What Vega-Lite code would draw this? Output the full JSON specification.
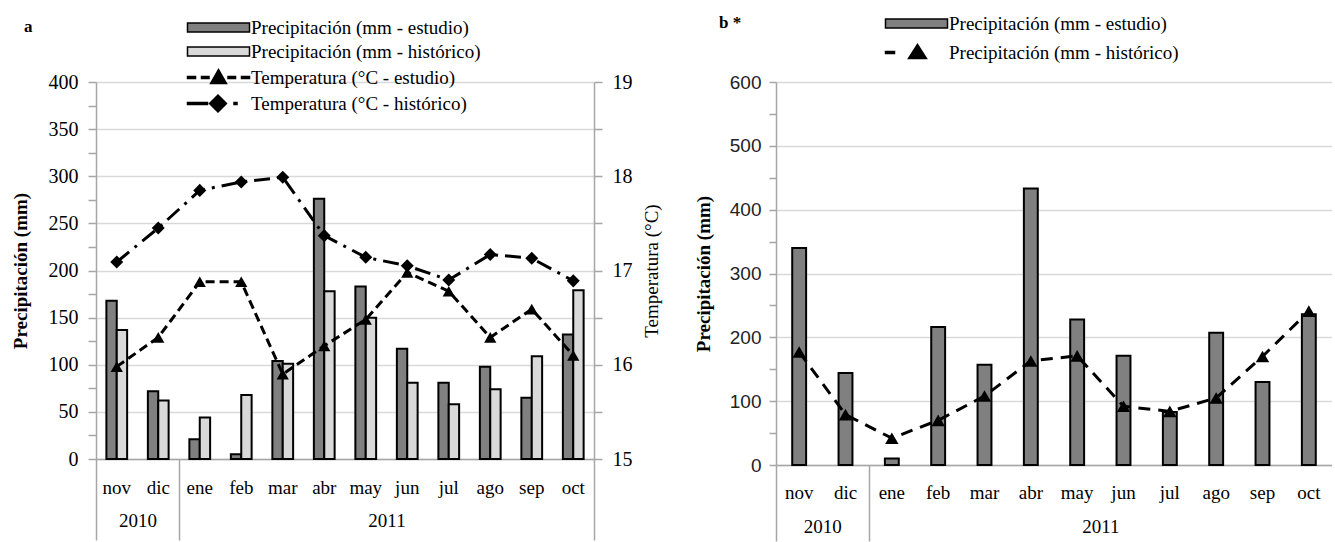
{
  "$schema": "https://vega.github.io/schema/vega-lite/v6.json",
  "background": "white",
  "padding": {"left": 11, "top": 13, "right": 0, "bottom": 0},
  "spacing": 33,
  "config": {
    "view": {"stroke": null},
    "font": "Liberation Serif",
    "legend": {"labelFont": "Liberation Serif", "labelFontSize": 19, "labelColor": "black", "labelLimit": 400, "labelOffset": 23, "symbolSize": 100, "symbolOpacity": 1, "symbolStrokeColor": "black", "symbolStrokeWidth": 1.5}
  },
  "resolve": {"scale": {"fill": "independent", "shape": "independent", "stroke": "independent", "xOffset": "independent"}},
  "datasets": {
    "a_bars": [
      {"mes": "nov", "serie": "Precipitación (mm - estudio)", "valor": 168},
      {"mes": "nov", "serie": "Precipitación (mm - histórico)", "valor": 137},
      {"mes": "dic", "serie": "Precipitación (mm - estudio)", "valor": 72},
      {"mes": "dic", "serie": "Precipitación (mm - histórico)", "valor": 62},
      {"mes": "ene", "serie": "Precipitación (mm - estudio)", "valor": 21},
      {"mes": "ene", "serie": "Precipitación (mm - histórico)", "valor": 44},
      {"mes": "feb", "serie": "Precipitación (mm - estudio)", "valor": 5},
      {"mes": "feb", "serie": "Precipitación (mm - histórico)", "valor": 68},
      {"mes": "mar", "serie": "Precipitación (mm - estudio)", "valor": 104},
      {"mes": "mar", "serie": "Precipitación (mm - histórico)", "valor": 101},
      {"mes": "abr", "serie": "Precipitación (mm - estudio)", "valor": 276},
      {"mes": "abr", "serie": "Precipitación (mm - histórico)", "valor": 178},
      {"mes": "may", "serie": "Precipitación (mm - estudio)", "valor": 183},
      {"mes": "may", "serie": "Precipitación (mm - histórico)", "valor": 150},
      {"mes": "jun", "serie": "Precipitación (mm - estudio)", "valor": 117},
      {"mes": "jun", "serie": "Precipitación (mm - histórico)", "valor": 81},
      {"mes": "jul", "serie": "Precipitación (mm - estudio)", "valor": 81},
      {"mes": "jul", "serie": "Precipitación (mm - histórico)", "valor": 58},
      {"mes": "ago", "serie": "Precipitación (mm - estudio)", "valor": 98},
      {"mes": "ago", "serie": "Precipitación (mm - histórico)", "valor": 74},
      {"mes": "sep", "serie": "Precipitación (mm - estudio)", "valor": 65},
      {"mes": "sep", "serie": "Precipitación (mm - histórico)", "valor": 109},
      {"mes": "oct", "serie": "Precipitación (mm - estudio)", "valor": 132},
      {"mes": "oct", "serie": "Precipitación (mm - histórico)", "valor": 179}
    ],
    "a_temp": [
      {"mes": "nov", "serie": "Temperatura (°C - estudio)", "valor": 15.98},
      {"mes": "dic", "serie": "Temperatura (°C - estudio)", "valor": 16.29},
      {"mes": "ene", "serie": "Temperatura (°C - estudio)", "valor": 16.88},
      {"mes": "feb", "serie": "Temperatura (°C - estudio)", "valor": 16.88},
      {"mes": "mar", "serie": "Temperatura (°C - estudio)", "valor": 15.9},
      {"mes": "abr", "serie": "Temperatura (°C - estudio)", "valor": 16.2},
      {"mes": "may", "serie": "Temperatura (°C - estudio)", "valor": 16.48},
      {"mes": "jun", "serie": "Temperatura (°C - estudio)", "valor": 16.98},
      {"mes": "jul", "serie": "Temperatura (°C - estudio)", "valor": 16.78},
      {"mes": "ago", "serie": "Temperatura (°C - estudio)", "valor": 16.29},
      {"mes": "sep", "serie": "Temperatura (°C - estudio)", "valor": 16.59},
      {"mes": "oct", "serie": "Temperatura (°C - estudio)", "valor": 16.1},
      {"mes": "nov", "serie": "Temperatura (°C - histórico)", "valor": 17.09},
      {"mes": "dic", "serie": "Temperatura (°C - histórico)", "valor": 17.45},
      {"mes": "ene", "serie": "Temperatura (°C - histórico)", "valor": 17.85},
      {"mes": "feb", "serie": "Temperatura (°C - histórico)", "valor": 17.94},
      {"mes": "mar", "serie": "Temperatura (°C - histórico)", "valor": 17.99},
      {"mes": "abr", "serie": "Temperatura (°C - histórico)", "valor": 17.37},
      {"mes": "may", "serie": "Temperatura (°C - histórico)", "valor": 17.14},
      {"mes": "jun", "serie": "Temperatura (°C - histórico)", "valor": 17.05},
      {"mes": "jul", "serie": "Temperatura (°C - histórico)", "valor": 16.9},
      {"mes": "ago", "serie": "Temperatura (°C - histórico)", "valor": 17.17},
      {"mes": "sep", "serie": "Temperatura (°C - histórico)", "valor": 17.13},
      {"mes": "oct", "serie": "Temperatura (°C - histórico)", "valor": 16.89}
    ],
    "b_bars": [
      {"mes": "nov", "serie": "Precipitación (mm - estudio)", "valor": 340},
      {"mes": "dic", "serie": "Precipitación (mm - estudio)", "valor": 144},
      {"mes": "ene", "serie": "Precipitación (mm - estudio)", "valor": 10},
      {"mes": "feb", "serie": "Precipitación (mm - estudio)", "valor": 216},
      {"mes": "mar", "serie": "Precipitación (mm - estudio)", "valor": 157},
      {"mes": "abr", "serie": "Precipitación (mm - estudio)", "valor": 433},
      {"mes": "may", "serie": "Precipitación (mm - estudio)", "valor": 228},
      {"mes": "jun", "serie": "Precipitación (mm - estudio)", "valor": 171},
      {"mes": "jul", "serie": "Precipitación (mm - estudio)", "valor": 83},
      {"mes": "ago", "serie": "Precipitación (mm - estudio)", "valor": 207},
      {"mes": "sep", "serie": "Precipitación (mm - estudio)", "valor": 130},
      {"mes": "oct", "serie": "Precipitación (mm - estudio)", "valor": 236}
    ],
    "b_hist": [
      {"mes": "nov", "serie": "Precipitación (mm - histórico)", "valor": 177},
      {"mes": "dic", "serie": "Precipitación (mm - histórico)", "valor": 79},
      {"mes": "ene", "serie": "Precipitación (mm - histórico)", "valor": 42},
      {"mes": "feb", "serie": "Precipitación (mm - histórico)", "valor": 70},
      {"mes": "mar", "serie": "Precipitación (mm - histórico)", "valor": 108},
      {"mes": "abr", "serie": "Precipitación (mm - histórico)", "valor": 163},
      {"mes": "may", "serie": "Precipitación (mm - histórico)", "valor": 171},
      {"mes": "jun", "serie": "Precipitación (mm - histórico)", "valor": 92},
      {"mes": "jul", "serie": "Precipitación (mm - histórico)", "valor": 84},
      {"mes": "ago", "serie": "Precipitación (mm - histórico)", "valor": 105},
      {"mes": "sep", "serie": "Precipitación (mm - histórico)", "valor": 170},
      {"mes": "oct", "serie": "Precipitación (mm - histórico)", "valor": 241}
    ],
    "years": [
      {"pos": 1, "anio": "2010"},
      {"pos": 7, "anio": "2011"}
    ]
  },
  "hconcat": [
    {
      "width": 498,
      "height": 377,
      "title": {"text": "a", "anchor": "start", "frame": "group", "dx": -72, "dy": 21.5, "font": "Liberation Serif", "fontSize": 17, "fontWeight": "bold", "color": "black"},
      "resolve": {"scale": {"x": "independent", "y": "independent"}},
      "layer": [
        {
          "data": {"name": "a_bars"},
          "mark": {"type": "bar", "stroke": "black", "strokeWidth": 2},
          "encoding": {
            "x": {"field": "mes", "type": "nominal", "sort": ["nov","dic","ene","feb","mar","abr","may","jun","jul","ago","sep","oct"],
              "scale": {"paddingInner": 0.5, "paddingOuter": 0.25},
              "axis": {"orient": "bottom", "title": null, "ticks": false, "domainColor": "#a6a6a6", "domainWidth": 1.5, "labelAngle": 0, "labelFont": "Liberation Serif", "labelFontSize": 19, "labelColor": "black", "labelPadding": 19}},
            "xOffset": {"field": "serie", "type": "nominal", "sort": ["Precipitación (mm - estudio)", "Precipitación (mm - histórico)"], "scale": {"paddingInner": 0, "paddingOuter": 0}},
            "y": {"field": "valor", "type": "quantitative", "scale": {"domain": [0, 400], "nice": false},
              "axis": {"title": "Precipitación (mm)", "values": [0,25,50,75,100,125,150,175,200,225,250,275,300,325,350,375,400],
                "labelExpr": "datum.value % 50 === 0 ? datum.label : ''",
                "grid": true, "gridColor": "#d9d9d9", "gridWidth": 1.5,
                "gridOpacity": {"condition": {"test": "datum.value % 50 !== 0", "value": 0}, "value": 1},
                "tickSize": 8, "tickColor": "#a6a6a6", "tickWidth": 1.5, "domainColor": "#a6a6a6", "domainWidth": 1.5,
                "labelFont": "Liberation Serif", "labelFontSize": 20, "labelColor": "black", "labelPadding": 10,
                "titleFont": "Liberation Serif", "titleFontSize": 19, "titleFontWeight": "bold", "titleColor": "black", "titlePadding": 18}},
            "fill": {"field": "serie", "type": "nominal",
              "scale": {"domain": ["Precipitación (mm - estudio)", "Precipitación (mm - histórico)", "Temperatura (°C - estudio)", "Temperatura (°C - histórico)"], "range": ["#808080", "#d9d9d9", "black", "black"]},
              "legend": {"orient": "none", "legendX": 113, "legendY": -64, "title": null, "rowPadding": 4}}
          }
        },
        {
          "data": {"name": "a_temp"},
          "transform": [{"filter": "datum.serie === 'Temperatura (°C - estudio)'"}],
          "mark": {"type": "line", "color": "black", "strokeWidth": 3, "strokeDash": [9, 5],
            "point": {"shape": "triangle-up", "filled": true, "size": 150, "color": "black"}},
          "encoding": {
            "x": {"field": "mes", "type": "nominal", "sort": ["nov","dic","ene","feb","mar","abr","may","jun","jul","ago","sep","oct"], "axis": null},
            "y": {"field": "valor", "type": "quantitative", "scale": {"domain": [15, 19], "nice": false, "zero": false},
              "axis": {"orient": "right", "title": "Temperatura (°C)", "values": [15,15.5,16,16.5,17,17.5,18,18.5,19],
                "labelExpr": "datum.value % 1 === 0 ? format(datum.value, 'd') : ''", "grid": false,
                "tickSize": 8, "tickColor": "#a6a6a6", "tickWidth": 1.5, "domainColor": "#a6a6a6", "domainWidth": 1.5,
                "labelFont": "Liberation Serif", "labelFontSize": 20, "labelColor": "black", "labelPadding": 10,
                "titleFont": "Liberation Serif", "titleFontSize": 19, "titleFontWeight": "normal", "titleColor": "black", "titleAngle": 270, "titleBaseline": "top", "titlePadding": 10}}
          }
        },
        {
          "data": {"name": "a_temp"},
          "transform": [{"filter": "datum.serie === 'Temperatura (°C - histórico)'"}],
          "mark": {"type": "line", "color": "black", "strokeWidth": 3, "strokeDash": [16, 7, 3, 7],
            "point": {"shape": "diamond", "filled": true, "size": 170, "color": "black"}},
          "encoding": {
            "x": {"field": "mes", "type": "nominal", "sort": ["nov","dic","ene","feb","mar","abr","may","jun","jul","ago","sep","oct"], "axis": null},
            "y": {"field": "valor", "type": "quantitative", "scale": {"domain": [15, 19], "nice": false, "zero": false}, "axis": null}
          }
        },
        {
          "data": {"name": "a_temp"},
          "mark": {"type": "point", "filled": true, "opacity": 0, "strokeWidth": 1.5},
          "encoding": {
            "x": {"field": "mes", "type": "nominal", "sort": ["nov","dic","ene","feb","mar","abr","may","jun","jul","ago","sep","oct"], "axis": null},
            "y": {"field": "valor", "type": "quantitative", "scale": {"domain": [15, 19], "nice": false, "zero": false}, "axis": null},
            "fill": {"field": "serie", "type": "nominal",
              "scale": {"domain": ["Precipitación (mm - estudio)", "Precipitación (mm - histórico)", "Temperatura (°C - estudio)", "Temperatura (°C - histórico)"], "range": ["#808080", "#d9d9d9", "black", "black"]},
              "legend": {"orient": "none", "legendX": 113, "legendY": -64, "title": null, "rowPadding": 4}},
            "stroke": {"field": "serie", "type": "nominal",
              "scale": {"domain": ["Precipitación (mm - estudio)", "Precipitación (mm - histórico)", "Temperatura (°C - estudio)", "Temperatura (°C - histórico)"], "range": ["black", "black", "black", "black"]},
              "legend": {"orient": "none", "legendX": 113, "legendY": -64, "title": null, "rowPadding": 4}},
            "shape": {"field": "serie", "type": "nominal",
              "scale": {"domain": ["Precipitación (mm - estudio)", "Precipitación (mm - histórico)", "Temperatura (°C - estudio)", "Temperatura (°C - histórico)"],
                "range": ["M-6.2,-0.9H6.2V0.9H-6.2Z", "M-6.2,-0.9H6.2V0.9H-6.2Z",
                  "M-6.2,-0.2H-4.6V0.2H-6.2Z M-3.4,-0.2H-1.9V0.2H-3.4Z M1.9,-0.2H3.4V0.2H1.9Z M4.6,-0.2H6.2V0.2H4.6Z M-1.6,1.2L0,-1.6L1.6,1.2Z",
                  "M-6.2,-0.2H-2.2V0.2H-6.2Z M-1.8,0L-0.1,-1.7L1.6,0L-0.1,1.7Z M3.1,-0.2H3.7V0.2H3.1Z"]},
              "legend": {"orient": "none", "legendX": 113, "legendY": -64, "title": null, "rowPadding": 4}}
          }
        },
        {
          "data": {"name": "years"},
          "mark": {"type": "point", "opacity": 0},
          "encoding": {
            "x": {"field": "pos", "type": "quantitative", "scale": {"domain": [0, 12], "nice": false, "zero": false},
              "axis": {"orient": "bottom", "title": null, "values": [0, 1, 2, 7, 12],
                "labelExpr": "datum.value === 1 ? '2010' : (datum.value === 7 ? '2011' : '')",
                "domain": false, "grid": false, "tickSize": 81, "tickColor": "#a6a6a6", "tickWidth": 1.5,
                "tickOpacity": {"condition": {"test": "datum.value === 1 || datum.value === 7", "value": 0}, "value": 1},
                "labelPadding": -29, "labelFlush": false, "labelOverlap": false, "labelBound": false,
                "labelFont": "Liberation Serif", "labelFontSize": 19, "labelColor": "black"}}
          }
        }
      ]
    },
    {
      "width": 556,
      "height": 383,
      "title": {"text": "b *", "anchor": "start", "frame": "group", "dx": -57, "dy": 21.5, "font": "Liberation Serif", "fontSize": 17, "fontWeight": "bold", "color": "black"},
      "resolve": {"scale": {"x": "independent", "y": "independent"}},
      "layer": [
        {
          "data": {"name": "b_bars"},
          "mark": {"type": "bar", "stroke": "black", "strokeWidth": 2},
          "encoding": {
            "x": {"field": "mes", "type": "nominal", "sort": ["nov","dic","ene","feb","mar","abr","may","jun","jul","ago","sep","oct"],
              "scale": {"paddingInner": 0.7, "paddingOuter": 0.35},
              "axis": {"orient": "bottom", "title": null, "ticks": false, "domainColor": "#a6a6a6", "domainWidth": 1.5, "labelAngle": 0, "labelFont": "Liberation Serif", "labelFontSize": 19, "labelColor": "black", "labelPadding": 18}},
            "y": {"field": "valor", "type": "quantitative", "scale": {"domain": [0, 600], "nice": false},
              "axis": {"title": "Precipitación (mm)", "values": [0,50,100,150,200,250,300,350,400,450,500,550,600],
                "labelExpr": "datum.value % 100 === 0 ? datum.label : ''",
                "grid": true, "gridColor": "#d9d9d9", "gridWidth": 1.5,
                "gridOpacity": {"condition": {"test": "datum.value % 100 !== 0", "value": 0}, "value": 1},
                "tickSize": 7, "tickColor": "#a6a6a6", "tickWidth": 1.5, "domainColor": "#a6a6a6", "domainWidth": 1.5,
                "labelFont": "Liberation Sans", "labelFontSize": 19, "labelColor": "#222222", "labelPadding": 8,
                "titleFont": "Liberation Serif", "titleFontSize": 19, "titleFontWeight": "bold", "titleColor": "black", "titlePadding": 16}},
            "fill": {"field": "serie", "type": "nominal",
              "scale": {"domain": ["Precipitación (mm - estudio)", "Precipitación (mm - histórico)"], "range": ["#808080", "black"]},
              "legend": {"orient": "none", "legendX": 131, "legendY": -68, "title": null, "rowPadding": 7}}
          }
        },
        {
          "data": {"name": "b_hist"},
          "mark": {"type": "line", "color": "black", "strokeWidth": 3, "strokeDash": [12, 8],
            "point": {"shape": "triangle-up", "filled": true, "size": 180, "color": "black"}},
          "encoding": {
            "x": {"field": "mes", "type": "nominal", "sort": ["nov","dic","ene","feb","mar","abr","may","jun","jul","ago","sep","oct"], "axis": null},
            "y": {"field": "valor", "type": "quantitative", "scale": {"domain": [0, 600], "nice": false}, "axis": null}
          }
        },
        {
          "data": {"name": "b_hist"},
          "mark": {"type": "point", "filled": true, "opacity": 0, "strokeWidth": 1.5},
          "encoding": {
            "x": {"field": "mes", "type": "nominal", "sort": ["nov","dic","ene","feb","mar","abr","may","jun","jul","ago","sep","oct"], "axis": null},
            "y": {"field": "valor", "type": "quantitative", "scale": {"domain": [0, 600], "nice": false}, "axis": null},
            "fill": {"field": "serie", "type": "nominal",
              "scale": {"domain": ["Precipitación (mm - estudio)", "Precipitación (mm - histórico)"], "range": ["#808080", "black"]},
              "legend": {"orient": "none", "legendX": 131, "legendY": -68, "title": null, "rowPadding": 7}},
            "stroke": {"field": "serie", "type": "nominal",
              "scale": {"domain": ["Precipitación (mm - estudio)", "Precipitación (mm - histórico)"], "range": ["black", "black"]},
              "legend": {"orient": "none", "legendX": 131, "legendY": -68, "title": null, "rowPadding": 7}},
            "shape": {"field": "serie", "type": "nominal",
              "scale": {"domain": ["Precipitación (mm - estudio)", "Precipitación (mm - histórico)"],
                "range": ["M-6.2,-0.9H6.2V0.9H-6.2Z", "M-6.2,-0.2H-4.4V0.2H-6.2Z M-1.6,1.2L0.2,-1.6L2,1.2Z"]},
              "legend": {"orient": "none", "legendX": 131, "legendY": -68, "title": null, "rowPadding": 7}}
          }
        },
        {
          "data": {"name": "years"},
          "mark": {"type": "point", "opacity": 0},
          "encoding": {
            "x": {"field": "pos", "type": "quantitative", "scale": {"domain": [0, 12], "nice": false, "zero": false},
              "axis": {"orient": "bottom", "title": null, "values": [0, 1, 2, 7],
                "labelExpr": "datum.value === 1 ? '2010' : (datum.value === 7 ? '2011' : '')",
                "domain": false, "grid": false, "tickSize": 76, "tickColor": "#a6a6a6", "tickWidth": 1.5,
                "tickOpacity": {"condition": {"test": "datum.value === 1 || datum.value === 7", "value": 0}, "value": 1},
                "labelPadding": -24, "labelFlush": false, "labelOverlap": false, "labelBound": false,
                "labelFont": "Liberation Serif", "labelFontSize": 19, "labelColor": "black"}}
          }
        }
      ]
    }
  ]
}
